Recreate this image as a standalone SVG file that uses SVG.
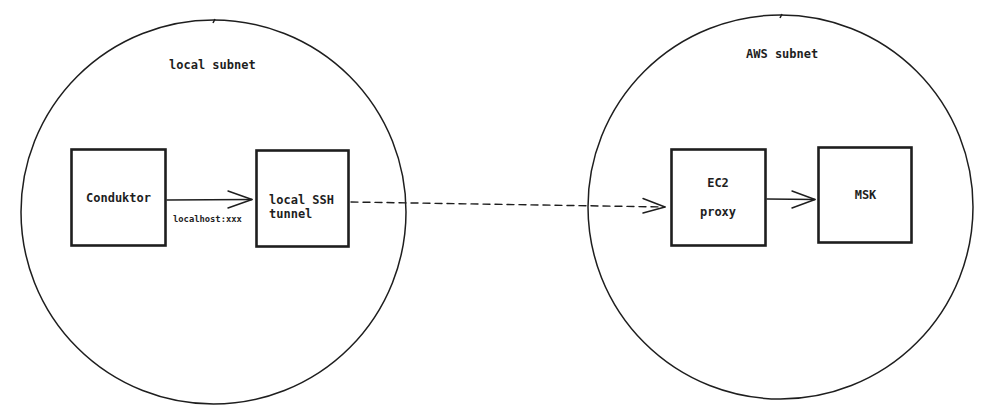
<svg xmlns="http://www.w3.org/2000/svg" width="994" height="413" viewBox="0 0 994 413">
<style>
.subnet{fill:none;stroke:#1e1e1e;stroke-width:1.5}
.box{fill:#fff;stroke:#1e1e1e;stroke-width:2.6}
.t{font-family:"DejaVu Sans Mono","Liberation Mono",monospace;font-weight:bold;font-size:12px;fill:#1e1e1e}
.small{font-size:8.8px}
.conn{fill:none;stroke:#1e1e1e;stroke-width:1.4;stroke-linecap:round;stroke-linejoin:round}
.dash{stroke-dasharray:7 5}
</style>
<rect width="994" height="413" fill="#fff"/>
<g id="local-subnet">
<ellipse class="subnet" cx="213.5" cy="212" rx="192.5" ry="192"/>
<path class="subnet" d="M215 19 L213 23"/>
<text class="t" x="169" y="69">local subnet</text>
</g>
<g id="aws-subnet">
<ellipse class="subnet" cx="780.5" cy="207" rx="192.5" ry="192"/>
<path class="subnet" d="M782 14 L780 18"/>
<text class="t" x="746" y="58">AWS subnet</text>
</g>
<g id="conduktor">
<rect class="box" x="71.5" y="149.5" width="94" height="96"/>
<text class="t" x="118.5" y="202" text-anchor="middle">Conduktor</text>
</g>
<g id="ssh-tunnel">
<rect class="box" x="256.5" y="150.5" width="92" height="96"/>
<text class="t" x="269" y="204">local SSH</text>
<text class="t" x="269" y="218">tunnel</text>
</g>
<g id="ec2-proxy">
<rect class="box" x="671.5" y="149.5" width="94" height="96"/>
<text class="t" x="718" y="187" text-anchor="middle">EC2</text>
<text class="t" x="718" y="216" text-anchor="middle">proxy</text>
</g>
<g id="msk">
<rect class="box" x="818.5" y="147.5" width="93" height="95"/>
<text class="t" x="865.5" y="199" text-anchor="middle">MSK</text>
</g>
<g id="connectors">
<path class="conn" d="M167 200 L252 199.5"/>
<path class="conn" d="M228 191 L252 199.5 L228 208"/>
<text class="t small" x="173" y="222">localhost:xxx</text>
<path class="conn dash" d="M351 202 L665 207"/>
<path class="conn" d="M643 198.5 L665 207 L643 213"/>
<path class="conn" d="M767 199 L815 199.5"/>
<path class="conn" d="M792 191 L815 199.5 L792 208"/>
</g>
</svg>
